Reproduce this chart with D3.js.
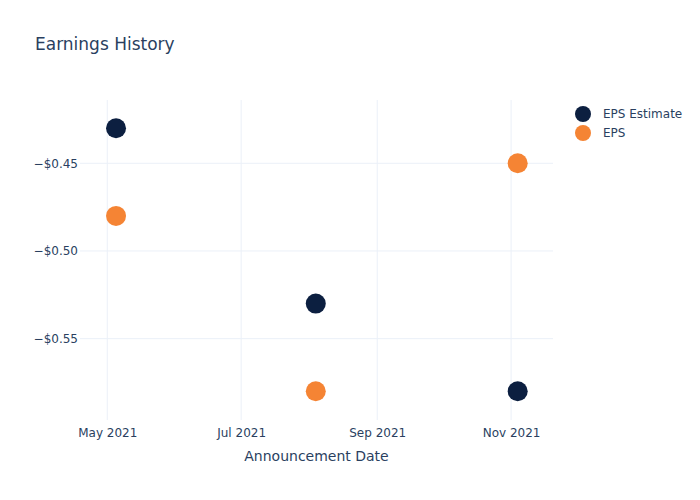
<!DOCTYPE html>
<html>
<head>
<meta charset="utf-8">
<script src="https://cdn.jsdelivr.net/npm/d3@7"></script>
<style>
  body { margin: 0; background: #fff; }
  svg { font-family: "DejaVu Sans", "Open Sans", Verdana, sans-serif; }
</style>
</head>
<body>
<svg id="chart" width="700" height="500"></svg>
<script>
const dates = ["2021-05-05", "2021-08-04", "2021-11-04"];
const epsEstimate = [-0.43, -0.53, -0.58];
const eps = [-0.48, -0.58, -0.45];
const yTicks = [-0.45, -0.50, -0.55];
const seriesNames = ["EPS Estimate", "EPS"];
const seriesColors = ["#0c1f40", "#f58434"];

const W = 700, H = 500;
const m = { l: 80, r: 147, t: 100, b: 80 };
const svg = d3.select("#chart");
const textColor = "#2a3f5f";
const gridColor = "#ebf0f8";

const parse = d3.utcParse("%Y-%m-%d");
const x = d3.scaleUtc()
  .domain([Date.UTC(2021, 3, 18, 14), Date.UTC(2021, 10, 20, 2)])
  .range([m.l, W - m.r]);
const y = d3.scaleLinear()
  .domain([-0.5964, -0.4139])
  .range([H - m.b, m.t]);

// title
svg.append("text").attr("x", 35).attr("y", 50)
  .attr("fill", textColor).attr("font-size", 17).text("Earnings History");

// grid
const xTicks = d3.utcMonth.every(2).range(new Date(Date.UTC(2021, 4, 1)), new Date(Date.UTC(2021, 11, 1)));
svg.append("g").selectAll("line").data(xTicks).join("line")
  .attr("x1", d => x(d)).attr("x2", d => x(d))
  .attr("y1", m.t).attr("y2", H - m.b)
  .attr("stroke", gridColor).attr("stroke-width", 1);
svg.append("g").selectAll("line").data(yTicks).join("line")
  .attr("x1", m.l).attr("x2", W - m.r)
  .attr("y1", d => y(d)).attr("y2", d => y(d))
  .attr("stroke", gridColor).attr("stroke-width", 1);

// axes
const xAxis = d3.axisBottom(x).tickValues(xTicks).tickFormat(d3.utcFormat("%b %Y")).tickSize(0).tickPadding(8);
const gx = svg.append("g").attr("transform", `translate(0,${H - m.b})`).call(xAxis);
gx.select(".domain").remove();
gx.selectAll("text").attr("fill", textColor).attr("font-size", 12).attr("font-family", "DejaVu Sans, sans-serif");

const yAxis = d3.axisLeft(y).tickValues(yTicks)
  .tickFormat(d => (d < 0 ? "\u2212" : "") + "$" + Math.abs(d).toFixed(2)).tickSize(0).tickPadding(2);
const gy = svg.append("g").attr("transform", `translate(${m.l},0)`).call(yAxis);
gy.select(".domain").remove();
gy.selectAll("text").attr("fill", textColor).attr("font-size", 12).attr("font-family", "DejaVu Sans, sans-serif");

// axis title
svg.append("text").attr("x", (m.l + W - m.r) / 2).attr("y", 461)
  .attr("text-anchor", "middle").attr("fill", textColor).attr("font-size", 14)
  .text("Announcement Date");

// points
const series = [epsEstimate, eps];
series.forEach((vals, i) => {
  svg.append("g").selectAll("circle").data(vals).join("circle")
    .attr("cx", (d, j) => x(parse(dates[j])))
    .attr("cy", d => y(d))
    .attr("r", 10)
    .attr("fill", seriesColors[i]);
});

// legend
const lg = svg.append("g");
seriesNames.forEach((name, i) => {
  const yy = 114 + i * 19;
  lg.append("circle").attr("cx", 583).attr("cy", yy).attr("r", 8).attr("fill", seriesColors[i]);
  lg.append("text").attr("x", 603).attr("y", yy + 4)
    .attr("fill", textColor).attr("font-size", 12).text(name);
});
</script>
</body>
</html>
